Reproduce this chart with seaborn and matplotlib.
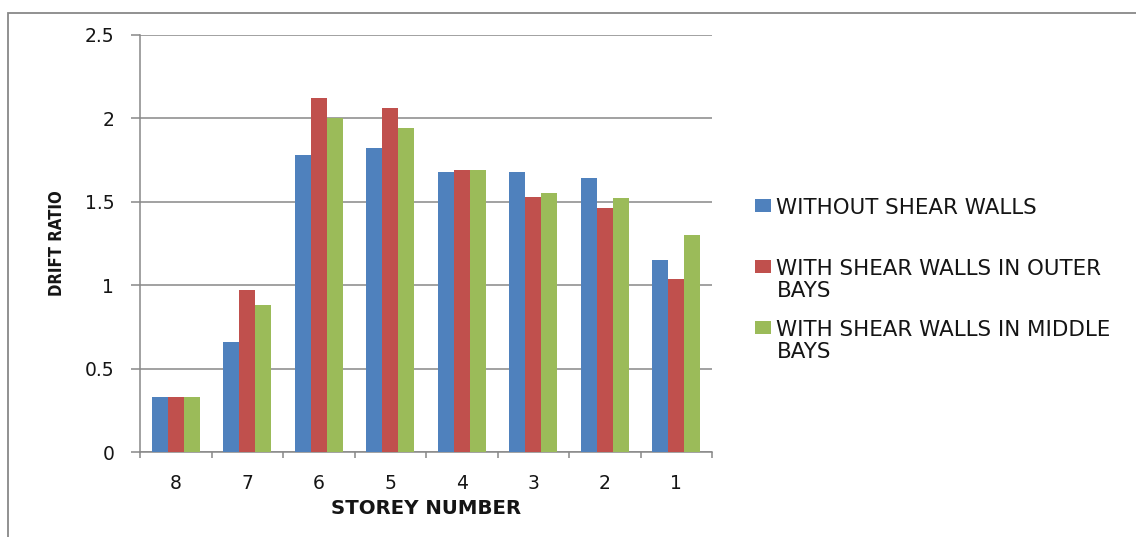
import matplotlib
matplotlib.use("Agg")
import matplotlib.pyplot as plt
import seaborn as sns
import pandas as pd
from matplotlib.patches import Rectangle
from matplotlib.legend_handler import HandlerPatch

# Storey-wise drift ratio for the three structural configurations
storeys = ["8", "7", "6", "5", "4", "3", "2", "1"]
without_walls = [0.33, 0.66, 1.78, 1.82, 1.68, 1.68, 1.64, 1.15]
outer_bays = [0.33, 0.97, 2.12, 2.06, 1.69, 1.53, 1.46, 1.04]
middle_bays = [0.33, 0.88, 2.00, 1.94, 1.69, 1.55, 1.52, 1.30]

series_names = ["WITHOUT SHEAR WALLS",
                "WITH SHEAR WALLS IN OUTER BAYS",
                "WITH SHEAR WALLS IN MIDDLE BAYS"]
legend_text = ["WITHOUT SHEAR WALLS\n",
               "WITH SHEAR WALLS IN OUTER\nBAYS",
               "WITH SHEAR WALLS IN MIDDLE\nBAYS"]
y_ticks = [0, 0.5, 1, 1.5, 2, 2.5]
y_tick_labels = ["0", "0.5", "1", "1.5", "2", "2.5"]
colors = ["#4F81BD", "#C0504D", "#9BBB59"]

rows = []
for name, vals in zip(series_names, [without_walls, outer_bays, middle_bays]):
    for s, v in zip(storeys, vals):
        rows.append({"storey": s, "drift": v, "series": name})
df = pd.DataFrame(rows)

sns.set_theme(style="white")
plt.rcParams["font.family"] = ["DejaVu Sans"]

GRAY = "#888888"
TEXT = "#151515"
W, H = 1136, 537
fig = plt.figure(figsize=(W / 100, H / 100), dpi=100)
ax = fig.add_axes([140 / W, 1 - 452 / H, 572 / W, 417 / H])

sns.barplot(data=df, x="storey", y="drift", hue="series", order=storeys,
            hue_order=series_names, palette=colors, saturation=1,
            width=0.675, errorbar=None, legend=False, ax=ax, zorder=3,
            linewidth=0, edgecolor="none")

ax.set_ylim(0, 2.5)
ax.set_xlim(-0.5, len(storeys) - 0.5)
ax.set_yticks(y_ticks)
ax.set_yticklabels(y_tick_labels)
ax.yaxis.grid(True, color=GRAY, linewidth=1.1, zorder=0)
ax.set_axisbelow(True)

for side in ["top", "right"]:
    ax.spines[side].set_visible(False)
for side in ["left", "bottom"]:
    ax.spines[side].set_color(GRAY)
    ax.spines[side].set_linewidth(1.1)

ax.tick_params(axis="y", which="major", direction="out", length=6.5, width=1.1,
               color=GRAY, pad=12, labelsize=13.5, labelcolor=TEXT, left=True)
ax.tick_params(axis="x", which="major", length=0, pad=15.5, labelsize=13.5,
               labelcolor=TEXT)
ax.set_xticks([i + 0.5 for i in range(-1, len(storeys))], minor=True)
ax.tick_params(axis="x", which="minor", direction="out", length=4.5, width=1.1,
               color=GRAY, bottom=True)

ax.set_xlabel("STOREY NUMBER", fontsize=14.2, fontweight="bold", color=TEXT,
              va="center")
ax.xaxis.set_label_coords(0.5, (452 - 509) / 417)
ax.set_ylabel("DRIFT RATIO", fontsize=12, fontweight="bold", color=TEXT,
              fontstretch="condensed", va="center")
ax.yaxis.set_label_coords((57 - 140) / 572, 0.5)


def raised_square(legend, orig_handle, xdescent, ydescent, width, height, fontsize):
    # square marker aligned with the first line of a two-line label
    return Rectangle((-xdescent, -ydescent + 0.68 * fontsize), width, height)


handles = [c.patches[0] for c in ax.containers]
leg = ax.legend(handles, legend_text, loc="upper left",
                bbox_to_anchor=(755 / W, 1 - 198 / H), bbox_transform=fig.transFigure,
                frameon=False, fontsize=15.4, borderpad=0, borderaxespad=0,
                handlelength=0.75, handleheight=0.56, handletextpad=0.25,
                labelspacing=0.87,
                handler_map={Rectangle: HandlerPatch(patch_func=raised_square)})
for t in leg.get_texts():
    t.set_color(TEXT)
    t.set_linespacing(1.15)

# outer chart border
fig.add_artist(Rectangle((8 / W, -0.2), 1.2, 1.2 - 13 / H, transform=fig.transFigure,
                         fill=False, edgecolor=GRAY, linewidth=1.3, clip_on=False))

fig.savefig("out.png", dpi=100)
